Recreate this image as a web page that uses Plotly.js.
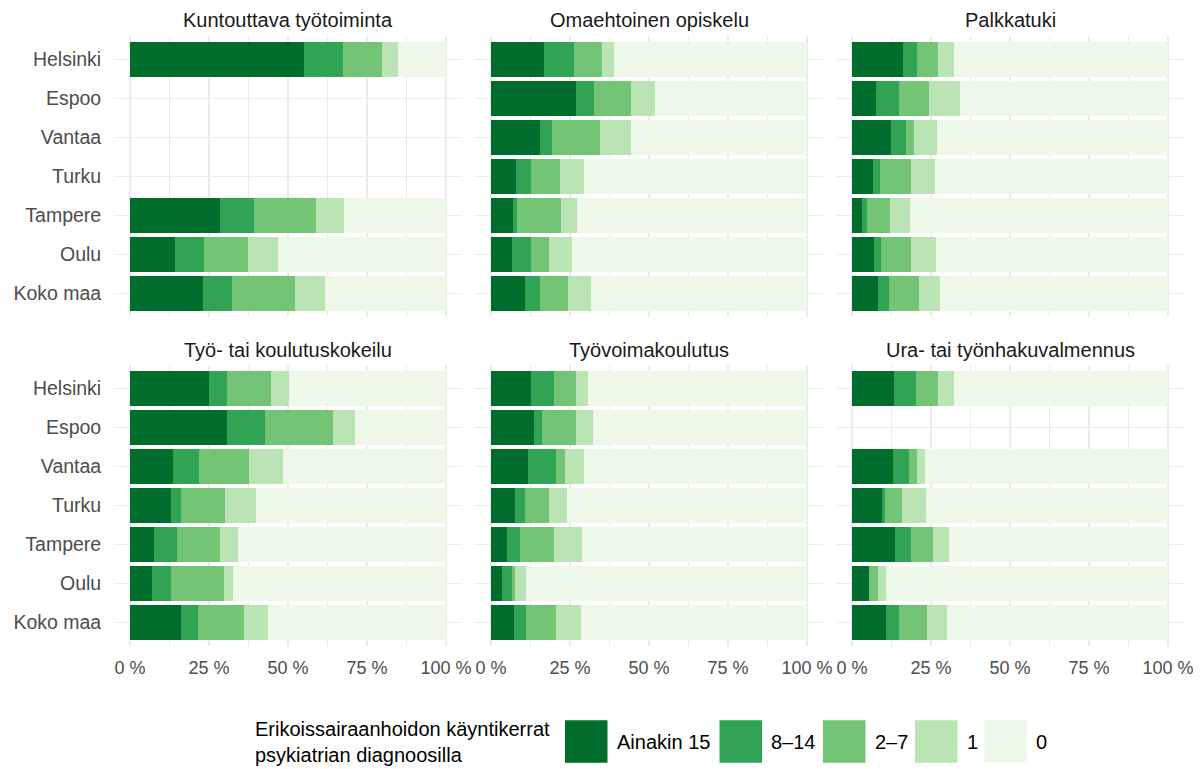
<!DOCTYPE html>
<html>
<head>
<meta charset="utf-8">
<script src="https://cdn.plot.ly/plotly-3.0.1.min.js"></script>
<style>
  html, body { margin: 0; padding: 0; background: #ffffff; }
  #chart { width: 1204px; height: 769px; }
</style>
</head>
<body>
<div id="chart"></div>
<script>
// ---------------- DATA ----------------
const cities = ['Helsinki', 'Espoo', 'Vantaa', 'Turku', 'Tampere', 'Oulu', 'Koko maa'];
const levels = ['Ainakin 15', '8–14', '2–7', '1', '0'];
const programs = ['Kuntouttava työtoiminta', 'Omaehtoinen opiskelu', 'Palkkatuki',
                  'Työ- tai koulutuskokeilu', 'Työvoimakoulutus', 'Ura- tai työnhakuvalmennus'];
const tickVals = [0, 25, 50, 75, 100];
const tickText = ['0 %', '25 %', '50 %', '75 %', '100 %'];
const legendTitle = 'Erikoissairaanhoidon käyntikerrat<br>psykiatrian diagnoosilla';

// shares (%) per city, columns in the order of `levels`; null = no bar
const kuntouttavaTyotoiminta = [
  [55.0, 12.3, 12.4, 5.1, 15.2],
  null,
  null,
  null,
  [28.6, 10.5, 19.7, 8.8, 32.4],
  [14.2, 9.3, 13.9, 9.3, 53.3],
  [23.2, 9.0, 19.9, 9.7, 38.2]
];
const omaehtoinenOpiskelu = [
  [16.8, 9.5, 8.9, 3.8, 61.0],
  [26.9, 5.7, 11.6, 7.6, 48.2],
  [15.4, 3.8, 15.4, 9.6, 55.8],
  [7.8, 4.8, 9.2, 7.7, 70.5],
  [7.0, 1.2, 14.0, 4.9, 72.9],
  [6.5, 6.1, 5.6, 7.4, 74.4],
  [10.9, 4.5, 9.1, 7.0, 68.5]
];
const palkkatuki = [
  [16.1, 4.4, 6.8, 5.1, 67.6],
  [7.5, 7.4, 9.6, 9.7, 65.8],
  [12.3, 4.9, 2.4, 7.3, 73.1],
  [6.6, 2.3, 9.8, 7.5, 73.8],
  [3.2, 1.5, 7.2, 6.5, 81.6],
  [6.9, 2.2, 9.6, 8.0, 73.3],
  [8.2, 3.5, 9.4, 6.7, 72.2]
];
const koulutuskokeilu = [
  [25.1, 5.6, 13.9, 5.7, 49.7],
  [30.8, 12.0, 21.3, 7.1, 28.8],
  [13.6, 8.1, 16.0, 10.7, 51.6],
  [13.0, 3.2, 13.9, 9.7, 60.2],
  [7.7, 7.2, 13.7, 5.7, 65.7],
  [7.0, 6.0, 16.6, 3.0, 67.4],
  [16.0, 5.5, 14.5, 7.8, 56.2]
];
const tyovoimakoulutus = [
  [12.7, 7.1, 7.0, 3.8, 69.4],
  [13.6, 2.5, 10.8, 5.5, 67.6],
  [11.7, 9.0, 2.8, 5.9, 70.6],
  [7.7, 3.1, 7.4, 5.9, 75.9],
  [5.2, 4.0, 10.8, 8.9, 71.1],
  [3.5, 3.1, 1.0, 3.5, 88.9],
  [7.3, 3.8, 9.6, 7.7, 71.6]
];
const tyonhakuvalmennus = [
  [13.2, 7.1, 7.0, 5.0, 67.7],
  null,
  [13.0, 5.0, 2.6, 2.5, 76.9],
  [9.5, 0.8, 5.5, 7.7, 76.5],
  [13.6, 5.2, 6.9, 5.1, 69.2],
  [5.5, 0.0, 2.7, 2.7, 89.1],
  [10.7, 4.1, 9.0, 6.4, 69.8]
];
const programData = [kuntouttavaTyotoiminta, omaehtoinenOpiskelu, palkkatuki,
                     koulutuskokeilu, tyovoimakoulutus, tyonhakuvalmennus];

// ---------------- STYLE / LAYOUT ----------------
const colors = ['#006d2c', '#31a354', '#74c476', '#bae4b3', '#edf8e9'];
const W = 1204, H = 769;
const FONT = '"Liberation Sans", Arial, Helvetica, sans-serif';
const colPx = [[114.2, 461.8], [475.2, 822.8], [836.2, 1183.8]];
const rowPx = [[35.9, 316.7], [365.0, 645.8]];
const stripY = [20, 350];
const legendKeyX = [565, 719.5, 823, 915, 984.5];
const legendKeySize = 42.5;
const legendCenterY = 741.5;
const legendTitleX = 253;

const px = x => x / W;
const py = y => 1 - y / H;

const traces = [];
const layout = {
  width: W, height: H, autosize: false,
  margin: {l: 0, r: 0, t: 0, b: 0, pad: 0},
  paper_bgcolor: '#ffffff', plot_bgcolor: '#ffffff',
  barmode: 'stack', bargap: 0.1,
  showlegend: false,
  font: {family: FONT, size: 18, color: '#4d4d4d'},
  annotations: [], shapes: []
};

programs.forEach((prog, p) => {
  const row = Math.floor(p / 3), col = p % 3;
  const ax = p === 0 ? '' : String(p + 1);
  const rows = programData[p];
  levels.forEach((lev, k) => {
    traces.push({
      type: 'bar', orientation: 'h', name: lev,
      x: rows.map(r => (r ? r[k] : null)),
      y: cities,
      xaxis: 'x' + ax, yaxis: 'y' + ax,
      marker: {color: colors[k], line: {width: 0}},
      hovertemplate: prog + '<br>%{y}: %{x:.1f} %<extra>' + lev + '</extra>'
    });
  });
  layout['xaxis' + ax] = {
    domain: [px(colPx[col][0]), px(colPx[col][1])],
    anchor: 'y' + ax,
    range: [-5, 105], fixedrange: true,
    tickmode: 'array', tickvals: tickVals, ticktext: tickText,
    showticklabels: row === 1,
    ticks: '', ticklabelstandoff: 9,
    tickfont: {family: FONT, size: 18, color: '#4d4d4d'},
    showgrid: true, gridcolor: '#ebebeb', gridwidth: 1.1,
    minor: {tickmode: 'linear', tick0: 0, dtick: 12.5, showgrid: true, gridcolor: '#ebebeb', gridwidth: 1, ticks: ''},
    zeroline: false, showline: false, automargin: false
  };
  layout['yaxis' + ax] = {
    domain: [py(rowPx[row][1]), py(rowPx[row][0])],
    anchor: 'x' + ax,
    type: 'category', categoryorder: 'array', categoryarray: cities,
    range: [cities.length - 0.4, -0.6], fixedrange: true,
    showticklabels: col === 0,
    ticks: '', ticklabelstandoff: 12,
    tickfont: {family: FONT, size: 19.5, color: '#4d4d4d'},
    showgrid: true, gridcolor: '#ebebeb', gridwidth: 1.1,
    zeroline: false, showline: false, automargin: false
  };
  layout.annotations.push({
    xref: 'paper', yref: 'paper',
    x: px((colPx[col][0] + colPx[col][1]) / 2), y: py(stripY[row]),
    xanchor: 'center', yanchor: 'middle',
    text: prog, showarrow: false,
    font: {family: FONT, size: 20, color: '#1a1a1a'}
  });
});

// legend (drawn as keys + labels)
layout.annotations.push({
  xref: 'paper', yref: 'paper', x: px(legendTitleX), y: py(legendCenterY),
  xanchor: 'left', yanchor: 'middle', align: 'left',
  text: legendTitle, showarrow: false,
  font: {family: FONT, size: 20, color: '#000000'}
});
levels.forEach((lev, k) => {
  const x0 = legendKeyX[k];
  layout.shapes.push({
    type: 'rect', xref: 'paper', yref: 'paper', layer: 'above',
    x0: px(x0), x1: px(x0 + legendKeySize),
    y0: py(legendCenterY + legendKeySize / 2), y1: py(legendCenterY - legendKeySize / 2),
    fillcolor: colors[k], line: {width: 0}
  });
  layout.annotations.push({
    xref: 'paper', yref: 'paper', x: px(x0 + legendKeySize + 7), y: py(legendCenterY),
    xanchor: 'left', yanchor: 'middle',
    text: lev, showarrow: false,
    font: {family: FONT, size: 20, color: '#000000'}
  });
});

Plotly.newPlot('chart', traces, layout, {displayModeBar: false, staticPlot: true});
</script>
</body>
</html>
